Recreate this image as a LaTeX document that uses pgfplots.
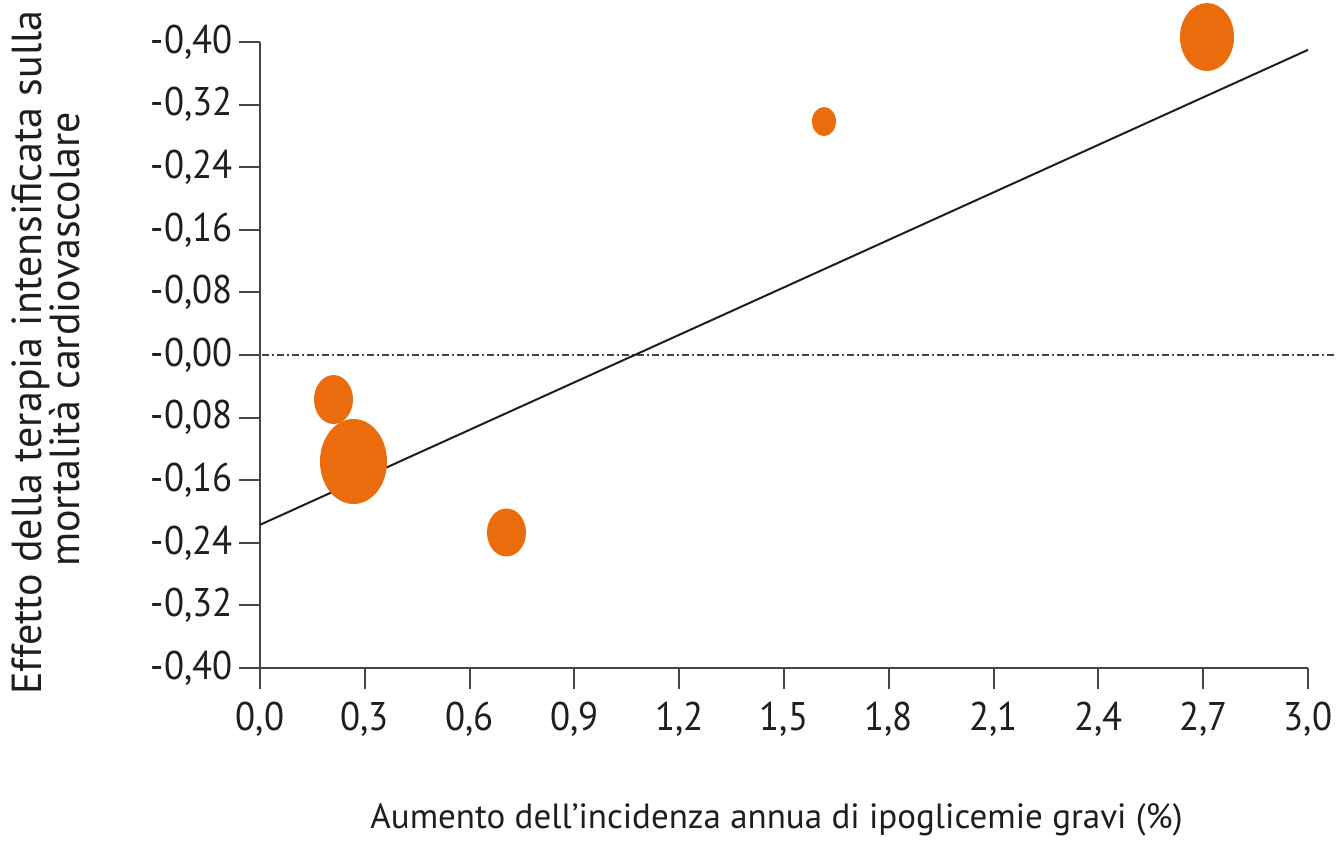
\documentclass[border=0pt]{standalone}
\usepackage{pgfplots}
\pgfplotsset{compat=1.18}
\usepackage{fontspec}
\setmainfont{PT Sans}

\definecolor{bubble}{RGB}{234,108,13}
\definecolor{axisgray}{RGB}{70,70,70}
\definecolor{ink}{RGB}{30,30,30}

% ellipse-shaped marker; radii come from the data table
\pgfdeclareplotmark{ellip}{%
  \pgfpathellipse{\pgfpointorigin}{\pgfqpoint{\rx pt}{0pt}}{\pgfqpoint{0pt}{\ry pt}}%
  \pgfusepathqfill}

\pgfplotstableread{
x       y        rx     ry
0.2104  -0.0569  9.75   12.25
0.2677  -0.1361  16.75  21.25
0.7056  -0.2268  9.75   12.0
1.6145   0.2984  6.0    7.25
2.7110   0.4064  13.5   17.0
}\studies

\pgfplotstableread{
x     y
0.0  -0.217
3.0   0.390
}\fitline

\begin{document}
\begin{tikzpicture}[font=\fontsize{20}{24}\selectfont, text=ink]
\begin{axis}[
  scale only axis,
  width=524pt, height=313pt,
  xmin=0, xmax=3.0,
  ymin=-0.40, ymax=0.40,
  axis x line=bottom, axis y line=left,
  axis line style={-, draw=axisgray, line width=1pt},
  tick align=outside,
  major tick length=10.5pt,
  tick style={draw=axisgray, line width=1pt},
  xtick={0,0.3,...,3.01},
  xticklabels={{0{,}0},{0{,}3},{0{,}6},{0{,}9},{1{,}2},{1{,}5},{1{,}8},{2{,}1},{2{,}4},{2{,}7},{3{,}0}},
  ytick={-0.40,-0.32,-0.24,-0.16,-0.08,0,0.08,0.16,0.24,0.32,0.40},
  yticklabels={{-0{,}40},{-0{,}32},{-0{,}24},{-0{,}16},{-0{,}08},{-0{,}00},{-0{,}08},{-0{,}16},{-0{,}24},{-0{,}32},{-0{,}40}},
  ticklabel style={font=\fontsize{20}{24}\selectfont, text=ink, xscale=0.92},
  xticklabel style={yshift=-3pt},
  clip=false,
]
  % zero reference line, running out to the right edge
  \addplot[draw=axisgray, line width=0.75pt,
    dash pattern=on 3.5pt off 1.5pt on 1pt off 1.5pt]
    coordinates {(0.006,0) (3.083,0)};
  % meta-regression line
  \addplot[draw=ink, line width=1pt] table[x=x,y=y] {\fitline};
  % studies, sized by weight
  \addplot[only marks, mark=ellip, mark options={fill=bubble, draw=none},
    visualization depends on={\thisrow{rx}\as\rx},
    visualization depends on={\thisrow{ry}\as\ry}]
    table[x=x,y=y] {\studies};
\end{axis}
\node[anchor=base, font=\fontsize{17.5}{21}\selectfont] at (258.25pt,-80pt)
  {Aumento dell’incidenza annua di ipoglicemie gravi (\%)};
\node[anchor=base, rotate=90, font=\fontsize{21}{25}\selectfont] at (-109pt,157.75pt)
  {Effetto della terapia intensificata sulla};
\node[anchor=base, rotate=90, font=\fontsize{21}{25}\selectfont] at (-90pt,164.25pt)
  {mortalità cardiovascolare};
\pgfresetboundingbox
\path (-130pt,-87pt) rectangle (538.5pt,334pt);
\end{tikzpicture}
\end{document}
